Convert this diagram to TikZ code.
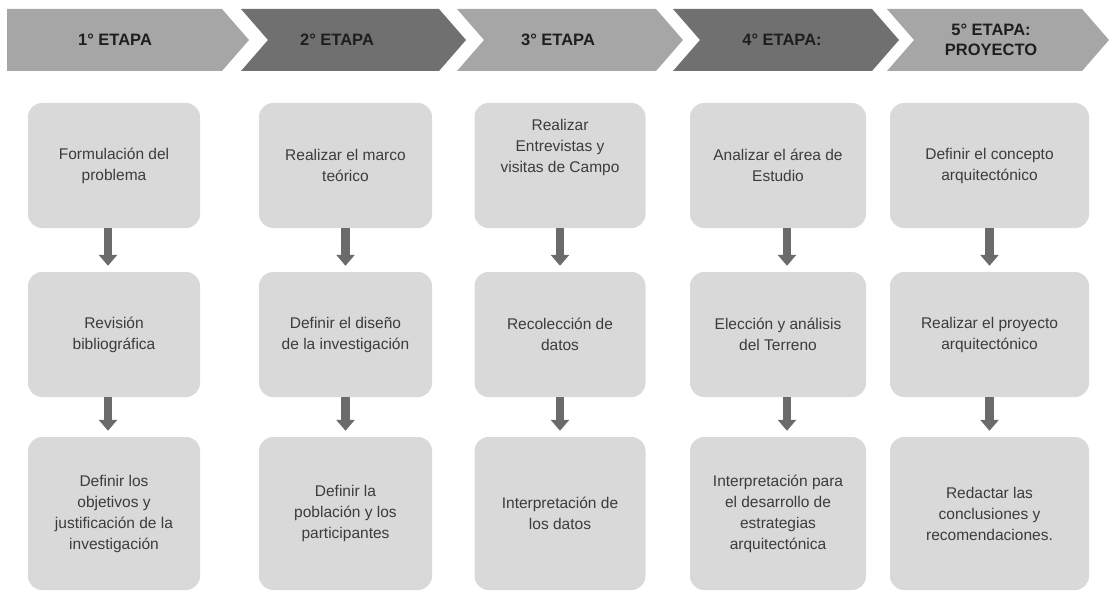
\documentclass[tikz,border=0pt]{standalone}
\usepackage{fontspec}
\setmainfont{Liberation Sans}
\usetikzlibrary{arrows.meta}
\definecolor{chevlight}{HTML}{A6A6A6}
\definecolor{chevdark}{HTML}{707070}
\definecolor{boxfill}{HTML}{D9D9D9}
\definecolor{boxtext}{HTML}{3C3C3C}
\definecolor{headtext}{HTML}{1E1E1E}
\definecolor{arrowgray}{HTML}{6B6B6B}
\begin{document}
\begin{tikzpicture}[x=1pt,y=-1pt,
  chevlt/.style={fill=chevlight,draw=none},
  chevdk/.style={fill=chevdark,draw=none},
  headlabel/.style={font=\fontsize{16.5}{20}\selectfont\bfseries,text=headtext,align=center,inner sep=0pt},
  stepbox/.style={fill=boxfill,draw=none,rounded corners=14pt,align=center,
    font=\fontsize{15.5}{21}\selectfont,text=boxtext,inner sep=0pt},
  flowarrow/.style={draw=arrowgray,line width=8.5pt,-{Triangle[width=18pt,length=11pt]},shorten >=6pt}
]
\useasboundingbox (0,0) rectangle (1110,591);
% chevrons
\fill[chevlt] (7,9) -- (222,9) -- (249,40) -- (222,71) -- (7,71) -- cycle;
\fill[chevdk] (241,9) -- (439,9) -- (466,40) -- (439,71) -- (241,71) -- (268,40) -- cycle;
\fill[chevlt] (457,9) -- (656,9) -- (683,40) -- (656,71) -- (457,71) -- (484,40) -- cycle;
\fill[chevdk] (673,9) -- (872,9) -- (899,40) -- (872,71) -- (673,71) -- (700,40) -- cycle;
\fill[chevlt] (887,9) -- (1082,9) -- (1109,40) -- (1082,71) -- (887,71) -- (914,40) -- cycle;
\node[headlabel] (h1) at (115,40) {1° ETAPA};
\node[headlabel] (h2) at (337,40) {2° ETAPA};
\node[headlabel] (h3) at (558,40) {3° ETAPA};
\node[headlabel] (h4) at (782,40) {4° ETAPA:};
\node[headlabel] (h5) at (991,40) {5° ETAPA:\\PROYECTO};
% column 1
\node[stepbox,minimum width=172pt,minimum height=125pt] (b11) at (114,165.5) {Formulación del\\problema};
\node[stepbox,minimum width=172pt,minimum height=125pt] (b12) at (114,334.5) {Revisión\\bibliográfica};
\node[stepbox,minimum width=172pt,minimum height=153pt] (b13) at (114,513.5) {Definir los\\objetivos y\\justificación de la\\investigación};
% column 2
\node[stepbox,minimum width=173pt,minimum height=125pt] (b21) at (345.5,165.5) {Realizar el marco\\teórico};
\node[stepbox,minimum width=173pt,minimum height=125pt] (b22) at (345.5,334.5) {Definir el diseño\\de la investigación};
\node[stepbox,minimum width=173pt,minimum height=153pt] (b23) at (345.5,513.5) {Definir la\\población y los\\participantes};
% column 3
\node[stepbox,minimum width=171pt,minimum height=125pt,text depth=40pt] (b31) at (560,165.5) {Realizar\\Entrevistas y\\visitas de Campo};
\node[stepbox,minimum width=171pt,minimum height=125pt] (b32) at (560,334.5) {Recolección de\\datos};
\node[stepbox,minimum width=171pt,minimum height=153pt] (b33) at (560,513.5) {Interpretación de\\los datos};
% column 4
\node[stepbox,minimum width=176pt,minimum height=125pt] (b41) at (778,165.5) {Analizar el área de\\Estudio};
\node[stepbox,minimum width=176pt,minimum height=125pt] (b42) at (778,334.5) {Elección y análisis\\del Terreno};
\node[stepbox,minimum width=176pt,minimum height=153pt] (b43) at (778,513.5) {Interpretación para\\el desarrollo de\\estrategias\\arquitectónica};
% column 5
\node[stepbox,minimum width=199pt,minimum height=125pt] (b51) at (989.5,165.5) {Definir el concepto\\arquitectónico};
\node[stepbox,minimum width=199pt,minimum height=125pt] (b52) at (989.5,334.5) {Realizar el proyecto\\arquitectónico};
\node[stepbox,minimum width=199pt,minimum height=153pt] (b53) at (989.5,513.5) {Redactar las\\conclusiones y\\recomendaciones.};
% arrows
\draw[flowarrow] ([xshift=-6pt]b11.south) -- ([xshift=-6pt]b12.north);
\draw[flowarrow] ([xshift=-6pt]b12.south) -- ([xshift=-6pt]b13.north);
\draw[flowarrow] (b21.south) -- (b22.north);
\draw[flowarrow] (b22.south) -- (b23.north);
\draw[flowarrow] (b31.south) -- (b32.north);
\draw[flowarrow] (b32.south) -- (b33.north);
\draw[flowarrow] ([xshift=9pt]b41.south) -- ([xshift=9pt]b42.north);
\draw[flowarrow] ([xshift=9pt]b42.south) -- ([xshift=9pt]b43.north);
\draw[flowarrow] (b51.south) -- (b52.north);
\draw[flowarrow] (b52.south) -- (b53.north);
\end{tikzpicture}
\end{document}
